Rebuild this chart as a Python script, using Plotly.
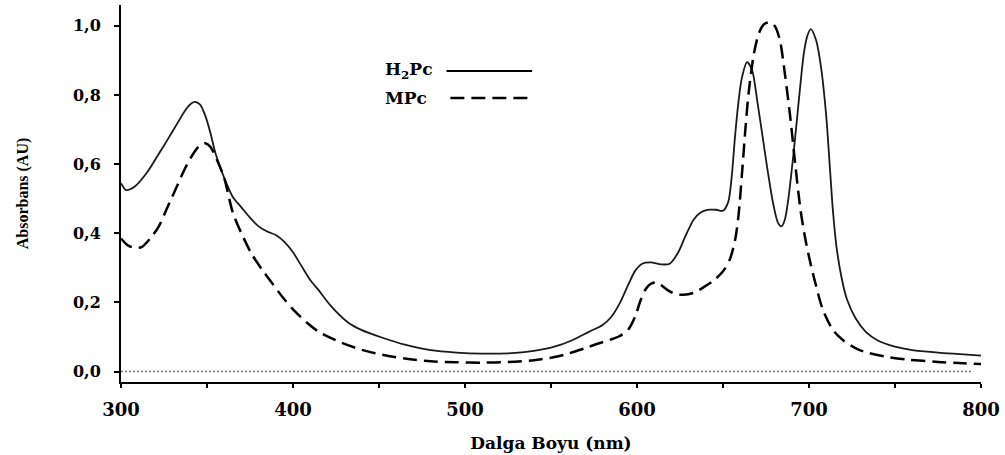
import plotly.graph_objects as go

# H2Pc spectrum (wavelength nm, absorbance)
h2pc_wl = [300, 303, 308, 315, 322, 327, 333, 338, 341, 343, 346, 349, 352, 355, 360, 365, 370, 375, 380, 385,
           390, 395, 400, 405, 410, 415, 422, 432, 440, 452, 465, 480, 495, 510, 525, 540, 552, 562, 572, 580,
           585, 590, 595, 599, 603, 608, 614, 619, 624, 628, 633, 637, 641, 646, 650, 653, 655, 657, 659,
           661, 664, 667, 670, 673, 676, 679, 682, 684, 686, 688, 691, 694, 697, 699, 701, 704, 707, 710,
           712, 714, 716, 719, 722, 727, 733, 740, 750, 760, 775, 790, 800]
h2pc_abs = [0.545, 0.525, 0.535, 0.575, 0.63, 0.67, 0.72, 0.76, 0.776, 0.78, 0.772, 0.74, 0.69, 0.63, 0.56,
            0.505, 0.475, 0.445, 0.42, 0.405, 0.395, 0.375, 0.345, 0.305, 0.265, 0.235, 0.19, 0.142, 0.12,
            0.098, 0.078, 0.062, 0.055, 0.052, 0.053, 0.06, 0.072, 0.09, 0.115, 0.135, 0.158, 0.198, 0.252,
            0.292, 0.312, 0.316, 0.31, 0.312, 0.345, 0.39, 0.44, 0.46, 0.468, 0.468, 0.465, 0.49, 0.56, 0.68,
            0.78, 0.85, 0.895, 0.87, 0.78, 0.68, 0.58, 0.49, 0.43, 0.42, 0.44, 0.5, 0.63, 0.78, 0.92, 0.97,
            0.99, 0.96, 0.88, 0.74, 0.6, 0.46, 0.36, 0.27, 0.21, 0.155, 0.115, 0.09, 0.072, 0.062, 0.055,
            0.05, 0.046]

# MPc spectrum
mpc_wl = [300, 304, 308, 312, 317, 322, 327, 332, 337, 342, 346, 349, 352, 356, 360, 365, 370, 376, 382, 388,
          394, 400, 408, 415, 428, 440, 452, 465, 480, 495, 510, 525, 540, 552, 560, 570, 578, 586, 590, 595,
          599, 602, 605, 608, 611, 614, 618, 622, 627, 633, 639, 645, 650, 654, 657, 659, 661, 663, 665, 668,
          671, 674, 677, 680, 683, 686, 689, 692, 695, 698, 701, 704, 708, 714, 720, 727, 733, 745, 757, 775,
          790, 800]
mpc_abs = [0.385, 0.365, 0.358, 0.36, 0.385, 0.42, 0.475, 0.53, 0.585, 0.63, 0.655, 0.66, 0.65, 0.61, 0.56,
           0.46, 0.40, 0.34, 0.295, 0.255, 0.215, 0.18, 0.142, 0.115, 0.084, 0.063, 0.049, 0.038, 0.03, 0.027,
           0.026, 0.028, 0.033, 0.042, 0.052, 0.068, 0.082, 0.095, 0.103, 0.122, 0.16, 0.205, 0.238, 0.254,
           0.258, 0.25, 0.235, 0.225, 0.222, 0.228, 0.245, 0.265, 0.29, 0.325, 0.38, 0.45, 0.57, 0.7, 0.81,
           0.92, 0.98, 1.005, 1.01, 1.0, 0.96, 0.86, 0.74, 0.6, 0.47, 0.38, 0.31, 0.25, 0.18, 0.12, 0.09,
           0.068, 0.056, 0.043, 0.035, 0.028, 0.024, 0.022]

baseline_wl = [300, 795]
baseline_abs = [0, 0]

y_tickvals = [0.0, 0.2, 0.4, 0.6, 0.8, 1.0]
y_ticktext = ["0,0", "0,2", "0,4", "0,6", "0,8", "1,0"]

SERIF = "DejaVu Serif"

fig = go.Figure()
fig.add_trace(go.Scatter(x=baseline_wl, y=baseline_abs, mode="lines",
                         line=dict(color="#777777", width=1.5, dash="2px,2px"),
                         showlegend=False, hoverinfo="skip"))
fig.add_trace(go.Scatter(x=h2pc_wl, y=h2pc_abs, mode="lines", name="H2Pc",
                         line=dict(color="#1a1a1a", width=1.8, shape="spline", smoothing=0.8),
                         showlegend=False))
fig.add_trace(go.Scatter(x=mpc_wl, y=mpc_abs, mode="lines", name="MPc",
                         line=dict(color="#000000", width=2.5, dash="14px,7px", shape="spline", smoothing=0.8),
                         showlegend=False))

# custom legend (text followed by line sample)
fig.add_annotation(xref="paper", yref="paper", x=0.3045, y=0.825, xanchor="left", yanchor="middle",
                   text="<b>H<sub>2</sub>Pc</b>", showarrow=False,
                   font=dict(family=SERIF, size=17, color="black"))
fig.add_annotation(xref="paper", yref="paper", x=0.3045, y=0.753, xanchor="left", yanchor="middle",
                   text="<b>MPc</b>", showarrow=False,
                   font=dict(family=SERIF, size=17, color="black"))
fig.add_shape(type="line", xref="paper", yref="paper", x0=0.3785, x1=0.478, y0=0.825, y1=0.825,
              line=dict(color="black", width=2))
fig.add_shape(type="line", xref="paper", yref="paper", x0=0.383, x1=0.478, y0=0.753, y1=0.753,
              line=dict(color="black", width=2.5, dash="14px,7px"))

fig.update_layout(
    width=1005, height=455,
    margin=dict(l=121, r=20, t=5, b=73),
    paper_bgcolor="white", plot_bgcolor="white",
    font=dict(family=SERIF, color="black"),
    xaxis=dict(range=[300, 800], tick0=300, dtick=100,
               showline=True, linecolor="black", linewidth=2, mirror=False,
               ticks="outside", ticklen=4, tickwidth=2, tickcolor="black",
               minor=dict(dtick=50, tick0=300, ticks="outside", ticklen=4, tickwidth=2,
                          tickcolor="black", showgrid=False),
               showgrid=False, zeroline=False, ticklabelstandoff=6,
               tickfont=dict(family=SERIF, size=18, weight="bold"),
               title=dict(text="<b>Dalga Boyu (nm)</b>", standoff=19,
                          font=dict(family=SERIF, size=17))),
    yaxis=dict(range=[-0.03, 1.06], tickvals=y_tickvals, ticktext=y_ticktext,
               showline=True, linecolor="black", linewidth=2,
               ticks="outside", ticklen=5, tickwidth=2, tickcolor="black",
               showgrid=False, zeroline=False, ticklabelstandoff=10,
               tickfont=dict(family=SERIF, size=16, weight="bold"),
               title=dict(text="<b>Absorbans (AU)</b>", standoff=40,
                          font=dict(family="Liberation Serif", size=16))),
)

fig.write_html("out.html", config={"displayModeBar": False},
               post_script="document.body.style.margin='0';")
